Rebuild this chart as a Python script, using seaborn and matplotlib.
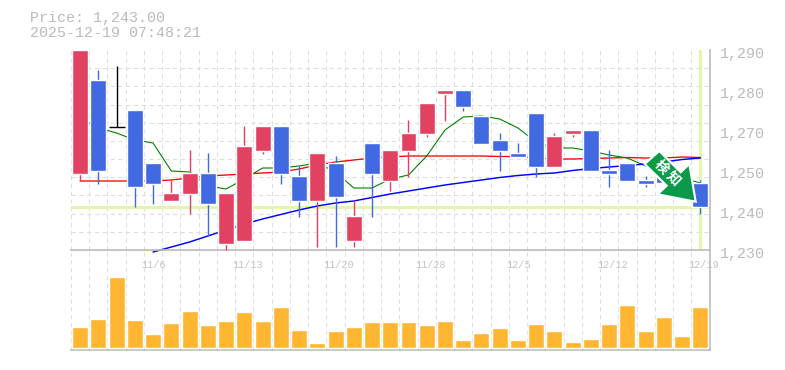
"""
Daily candle chart with volume panel
"""

import matplotlib.pyplot as plt
from matplotlib.patches import Polygon
from matplotlib.transforms import ScaledTranslation
import numpy as np
import pandas as pd
import seaborn as sns

TITLE = "Price: 1,243.00"
STAMP = "2025-12-19 07:48:21"
LAST_PRICE = 1243
LAST_DAY = 34

OPEN = [1252.8, 1281, 1267, 1272, 1256.1, 1244.7, 1246.8, 1253.1, 1231.8, 1232.7,
        1259.7, 1267.2, 1252.2, 1244.7, 1256.1, 1232.7, 1262.1, 1250.7, 1259.7, 1264.8,
        1276.8, 1278, 1270.2, 1263, 1259.1, 1271.1, 1254.9, 1264.8, 1266, 1254,
        1256.1, 1251, 1254, 1248, 1250.1]
CLOSE = [1290, 1253.7, 1267, 1248.9, 1249.8, 1247.1, 1253.1, 1243.8, 1247.1, 1261.2,
         1267.2, 1252.8, 1244.7, 1259.1, 1245.9, 1240.2, 1252.8, 1260, 1265.1, 1274.1,
         1278, 1272.9, 1261.8, 1259.7, 1257.9, 1254.9, 1264.2, 1266, 1253.7, 1252.8,
         1250.7, 1249.8, 1250, 1250, 1243]
HIGH = [1290, 1284, 1285.2, 1272, 1256.1, 1251, 1260, 1259.1, 1247.1, 1267.2,
        1267.2, 1267.2, 1255.2, 1259.1, 1258.2, 1245, 1262.1, 1260, 1269, 1274.1,
        1278, 1278, 1270.2, 1265.1, 1262.1, 1271.1, 1265.1, 1266, 1266, 1260,
        1256.1, 1252.2, 1254, 1250, 1251]
LOW = [1250.8, 1249.8, 1267, 1242.9, 1243.8, 1244.7, 1240.8, 1234.2, 1230, 1232.7,
       1258.8, 1249.8, 1239.9, 1230.9, 1230.9, 1230.9, 1239.9, 1247.7, 1251.9, 1263.9,
       1268.7, 1271.7, 1261.8, 1253.7, 1257.9, 1251.9, 1254.9, 1263.9, 1253.7, 1248.9,
       1250.7, 1248.9, 1250, 1248, 1240.8]
MA_GREEN = [1269.6, 1266.6, 1265.1, 1263, 1262.1, 1253.7, 1253.4, 1249.2, 1248.3, 1251.3,
            1254.6, 1254.6, 1255.2, 1256.1, 1253.4, 1248.6, 1248.6, 1251.3, 1252.5, 1258.2,
            1266, 1269.9, 1270.2, 1269.3, 1266.6, 1262.4, 1260.6, 1260.6, 1259.7, 1258.5,
            1257.6, 1255.2, 1254, 1251.6, 1250.1]
MA_RED = [1250.7, 1250.7, 1250.7, 1250.7, 1250.7, 1251, 1251.6, 1252.2, 1252.5, 1252.8,
          1253.1, 1253.4, 1254.3, 1255.5, 1256.4, 1257, 1257.6, 1257.9, 1258.2, 1258.2,
          1258.2, 1258.2, 1258.2, 1258.05, 1258.05, 1257.6, 1257.3, 1257.3, 1257.45, 1257.6,
          1257.75, 1257.6, 1257.6, 1257.9, 1257.75]
MA_BLUE = [None, None, None, None, 1229.4, 1230.9, 1232.4, 1234.2, 1236, 1237.8,
           1239.3, 1240.65, 1242, 1243.2, 1244.1, 1244.7, 1245.75, 1246.8, 1247.7, 1248.6,
           1249.5, 1250.25, 1251, 1251.75, 1252.35, 1252.8, 1253.1, 1253.85, 1254.45, 1254.9,
           1255.35, 1255.8, 1256.4, 1257.15, 1257.6]
VOLUME = [21, 29, 71, 28, 14, 25, 37, 23, 27, 36,
          27, 41, 18, 5, 17, 21, 26, 26, 26, 23,
          27, 8, 15, 20, 8, 24, 17, 6, 9, 24,
          43, 17, 31, 12, 41]
DATE_POS = [4, 9, 14, 19, 24, 29, 34]
DATE_LABELS = ["11/6", "11/13", "11/20", "11/28", "12/5", "12/12", "12/19"]
PRICE_TICKS = [1230, 1242, 1254, 1266, 1278, 1290]
PRICE_LABELS = ["1,230", "1,240", "1,250", "1,270", "1,280", "1,290"]

UP_COLOR = "#e24262"
DOWN_COLOR = "#4169e1"
VOL_COLOR = "#ffb733"
GRID_COLOR = "#dedede"
AXIS_COLOR = "#bbbbbb"
MARK_COLOR = "#e3f6ae"
ARROW_COLOR = "#0a9a4a"
WIDTH, HEIGHT = 785, 370
BODY_WIDTH = 0.875
GRID_STYLE = {"color": GRID_COLOR, "lw": 0.75, "ls": (0, (4, 3.5))}


def px_rect(left, top, right, bottom):
    return [left / WIDTH, 1 - bottom / HEIGHT, (right - left) / WIDTH, (bottom - top) / HEIGHT]


def px_points(points):
    return [(x / WIDTH, 1 - y / HEIGHT) for x, y in points]


def style_grid(ax):
    ax.set_xlim(-0.5, 34.5)
    ax.set_xticks(np.arange(-0.5, 34.6, 1), minor=True)
    ax.grid(which="minor", axis="x", **GRID_STYLE)
    ax.grid(which="major", visible=False)
    ax.tick_params(which="both", length=0)
    ax.set_axisbelow(True)
    for side in ("left", "top"):
        ax.spines[side].set_visible(False)
    for side in ("right", "bottom"):
        ax.spines[side].set_color(AXIS_COLOR)
        ax.spines[side].set_linewidth(1.2)
    ax.set_xlabel("")
    ax.set_ylabel("")


def plot_price(ax, prices):
    ax.axhline(LAST_PRICE, color=MARK_COLOR, lw=2.2, zorder=1)
    ax.axvline(LAST_DAY, ymin=0.01, ymax=1, color=MARK_COLOR, lw=2.2, zorder=1)
    for col, color, lw in (("ma_red", "red", 0.95), ("ma_green", "green", 0.8), ("ma_blue", "blue", 1.05)):
        sns.lineplot(data=prices, x="day", y=col, color=color, lw=lw, errorbar=None,
                     ax=ax, zorder=2, clip_on=False)
    up = prices.close > prices.open
    flat = prices.close == prices.open
    colors = np.where(flat, "black", np.where(up, UP_COLOR, DOWN_COLOR))
    ax.vlines(prices.day, prices.low, prices.high, colors=colors, lw=1.0, zorder=3, clip_on=False)
    solid = ~flat
    ax.bar(prices.day[solid], (prices.close - prices.open)[solid], bottom=prices.open[solid],
           width=BODY_WIDTH, color=colors[solid], zorder=4)
    ax.hlines(prices.open[flat], prices.day[flat] - BODY_WIDTH / 2, prices.day[flat] + BODY_WIDTH / 2,
              colors="black", lw=1.0, zorder=4)

    ax.set_ylim(1230, 1290)
    style_grid(ax)
    ax.set_yticks(np.linspace(1230, 1290, 12), minor=True)
    ax.grid(which="minor", axis="y", **GRID_STYLE)
    ax.yaxis.tick_right()
    ax.set_yticks(PRICE_TICKS, PRICE_LABELS, family="Liberation Mono", fontsize=10.8, color=AXIS_COLOR)
    ax.tick_params(axis="y", which="major", pad=7.5)
    nudge = ScaledTranslation(0, -2.5 / 100, ax.figure.dpi_scale_trans)
    for label in ax.get_yticklabels():
        label.set_transform(label.get_transform() + nudge)
    ax.set_xticks([d - 0.65 for d in DATE_POS], DATE_LABELS, family="Liberation Mono",
                  fontsize=7.4, color="#c4c4c4", ha="left")
    ax.tick_params(axis="x", which="major", pad=7)
    ax.grid(which="major", visible=False)


def plot_volume(ax, prices):
    sns.barplot(data=prices, x="day", y="volume", native_scale=True, color=VOL_COLOR,
                saturation=1, width=BODY_WIDTH, errorbar=None, ax=ax, zorder=3)
    ax.set_ylim(-2, 98)
    ax.set_yticks([])
    ax.set_xticks([])
    style_grid(ax)


def plot_arrow(fig):
    shape = px_points([(659.3, 151), (680.7, 172.3), (689.3, 164), (695.7, 201.7),
                       (657.7, 194.3), (666.7, 185.7), (644.7, 164)])
    fig.add_artist(Polygon(shape, closed=True, transform=fig.transFigure, facecolor=ARROW_COLOR,
                           edgecolor="white", lw=1.5, joinstyle="miter", zorder=10))
    for (x, y), char in zip(((660.7, 167.3), (672.7, 179.3)), "検知"):
        fig.text(x / WIDTH, 1 - y / HEIGHT, char, color="white", fontsize=10, fontweight="bold",
                 family=["Noto Sans CJK JP", "DejaVu Sans"], rotation=-45,
                 ha="center", va="center", zorder=11)


def main():
    sns.set_theme(style="white")
    prices = pd.DataFrame({"day": range(len(OPEN)), "open": OPEN, "close": CLOSE, "high": HIGH,
                           "low": LOW, "ma_green": MA_GREEN, "ma_red": MA_RED,
                           "ma_blue": MA_BLUE, "volume": VOLUME}).astype(float)
    fig = plt.figure(figsize=(WIDTH / 100, HEIGHT / 100), dpi=100)
    ax_vol = fig.add_axes(px_rect(71, 250, 709.5, 350))
    ax_price = fig.add_axes(px_rect(71, 50, 709.5, 250))
    ax_price.patch.set_alpha(0)
    plot_volume(ax_vol, prices)
    plot_price(ax_price, prices)
    plot_arrow(fig)
    for y, text in ((18, TITLE), (33, STAMP)):
        fig.text(30 / WIDTH, 1 - y / HEIGHT, text, family="Liberation Mono", fontsize=10.8,
                 color=AXIS_COLOR, ha="left", va="center")
    fig.savefig("out.png", dpi=100)


if __name__ == "__main__":
    main()
